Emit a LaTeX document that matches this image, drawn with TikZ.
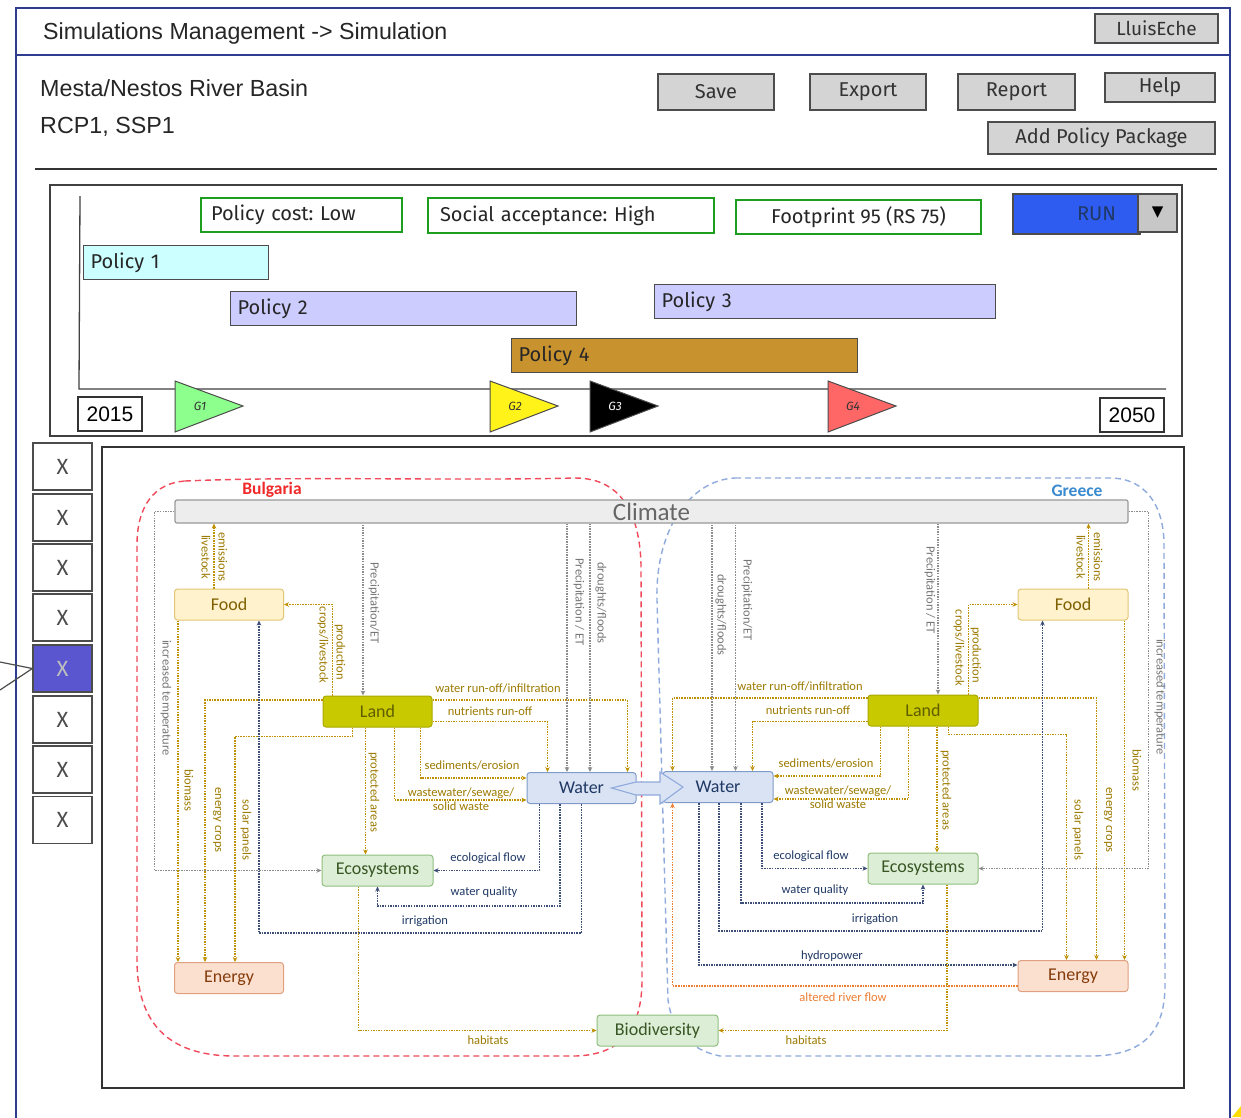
\documentclass[tikz,border=0pt]{standalone}
\usepackage{fontspec}
\setmainfont{Liberation Sans}
\newfontfamily\calfont{Carlito}
\newfontfamily\skfont{Fira Sans}
\newfontfamily\symfont{DejaVu Sans}
\usetikzlibrary{arrows.meta,calc}
\frenchspacing
\definecolor{frameblue}{HTML}{2E3D8F}
\definecolor{okgreen}{HTML}{1E9E1E}
\definecolor{runblue}{HTML}{2F5CF0}
\definecolor{pol1}{HTML}{CCFFFF}
\definecolor{pol2}{HTML}{CCCCFF}
\definecolor{pol4}{HTML}{C8922F}
\definecolor{selx}{HTML}{5A56D0}
\definecolor{goldC}{HTML}{BF9000}
\definecolor{goldT}{HTML}{9C7A00}
\definecolor{navyC}{HTML}{3C4E78}
\definecolor{navyT}{HTML}{1F3864}
\definecolor{grayC}{HTML}{8C8C8C}
\definecolor{grayT}{HTML}{767676}
\definecolor{orgC}{HTML}{ED7D31}
\definecolor{foodF}{HTML}{FFF2CC}\definecolor{foodB}{HTML}{E2C675}\definecolor{foodT}{HTML}{7F6000}
\definecolor{landF}{HTML}{C9C900}\definecolor{landB}{HTML}{A8A800}\definecolor{landT}{HTML}{5E5E00}
\definecolor{watF}{HTML}{DAE3F3}\definecolor{watB}{HTML}{7F9CC8}\definecolor{watT}{HTML}{1F3864}
\definecolor{ecoF}{HTML}{DDEED6}\definecolor{ecoB}{HTML}{8FBF7F}\definecolor{ecoT}{HTML}{375623}
\definecolor{enF}{HTML}{FBDFCF}\definecolor{enB}{HTML}{E0A080}\definecolor{enT}{HTML}{843C0C}
\definecolor{bgred}{HTML}{F04A5A}
\definecolor{grblue}{HTML}{8FAADC}
\definecolor{bulred}{HTML}{F02828}
\definecolor{greblue}{HTML}{3A8AD0}
\begin{document}
\begin{tikzpicture}[x=1pt,y=-1pt,
  >={Stealth[length=5pt,width=4.5pt]},
  uibtn/.style={draw=black!70, fill=black!17, line width=1.3pt, inner sep=0pt, font=\skfont\fontsize{20}{24}\selectfont, text=black!80},
  gbox/.style={draw=okgreen, line width=2.2pt, fill=white, inner ysep=0pt, font=\skfont\frenchspacing\fontsize{20}{24}\selectfont, text=black!85},
  polbar/.style={draw=black!70, line width=1.2pt, anchor=north west, inner xsep=7pt, inner ysep=0pt, minimum height=34pt, align=left, font=\skfont\fontsize{20}{24}\selectfont, text=black!85},
  xbox/.style={draw=black!70, line width=1.3pt, fill=white, minimum width=59pt, minimum height=47pt, inner sep=0pt, font=\skfont\fontsize{22}{24}\selectfont, text=black!70},
  yearbox/.style={draw=black!80, line width=1.2pt, fill=white, minimum width=64pt, minimum height=34pt, inner sep=0pt, font=\fontsize{21}{24}\selectfont},
  flag/.style={draw=black!70, line width=1pt},
  nd/.style={rounded corners=3pt, line width=1pt, minimum width=109pt, minimum height=31pt, inner sep=0pt, font=\calfont\fontsize{18}{20}\selectfont},
  foodn/.style={nd, draw=foodB, fill=foodF, text=foodT},
  landn/.style={nd, draw=landB, fill=landF, text=landT},
  watn/.style={nd, draw=watB, fill=watF, text=watT},
  econ/.style={nd, draw=ecoB, fill=ecoF, text=ecoT},
  enn/.style={nd, draw=enB, fill=enF, text=enT},
  conn/.style={line width=1.5pt, dash pattern=on 1.5pt off 1.1pt},
  goldl/.style={conn, draw=goldC},
  navyl/.style={conn, draw=navyC},
  grayl/.style={conn, draw=grayC},
  orgl/.style={conn, draw=orgC},
  lbl/.style={font=\calfont\fontsize{12.5}{14}\selectfont, inner sep=0pt, align=center},
  lgold/.style={lbl, text=goldT},
  lnavy/.style={lbl, text=navyT},
  lgray/.style={lbl, text=grayT},
  lorg/.style={lbl, text=orgC},
  rl/.style={rotate=-90}
]
\useasboundingbox (0,0) rectangle (1241,1117);
\fill[white] (0,0) rectangle (1241,1117);

% ---------- outer frame and header ----------
\draw[frameblue, line width=2.6pt] (16,1130) -- (16,8) -- (1230,8) -- (1230,1130);
\draw[frameblue, line width=2.6pt] (16,55) -- (1230,55);
\node[anchor=west, font=\fontsize{23.2}{26}\selectfont, text=black!85, inner sep=0pt] (title) at (43,33) {Simulations Management -> Simulation};
\node[uibtn, minimum width=123pt, minimum height=29pt, font=\skfont\fontsize{19}{22}\selectfont] (user) at (1156.5,28.5) {LluisEche};

\node[anchor=west, font=\fontsize{23.3}{26}\selectfont, text=black!85, inner sep=0pt] (basin) at (40,88) {Mesta/Nestos River Basin};
\node[anchor=west, font=\fontsize{23.3}{26}\selectfont, text=black!85, inner sep=0pt] (rcp) at (40,127) {RCP1, SSP1};

\node[uibtn, minimum width=116pt, minimum height=36pt] (save) at (716,92) {Save};
\node[uibtn, minimum width=116pt, minimum height=36pt] (export) at (868,92) {Export};
\node[uibtn, minimum width=117pt, minimum height=36pt] (report) at (1016.5,92) {Report};
\node[uibtn, minimum width=110pt, minimum height=29pt] (help) at (1160,87.5) {Help};
\node[uibtn, minimum width=227pt, minimum height=32pt] (addpp) at (1101.5,138) {Add Policy Package};
\draw[black!80, line width=1.5pt] (35,169) -- (1217,169);

% ---------- timeline panel ----------
\draw[black!75, line width=1.3pt] (50,185) rectangle (1182,436);
\draw[black!75, line width=1.3pt] (80,196) -- (79,389) -- (1166,389);
\node[gbox, text width=181pt, inner xsep=10pt, align=left, minimum height=34pt] (cost) at (301.5,215) {Policy cost: Low};
\node[gbox, text width=262pt, inner xsep=12pt, align=left, minimum height=35pt] (social) at (571,215.5) {Social acceptance: High};
\node[gbox, minimum width=245pt, inner xsep=0pt, minimum height=34pt] (foot) at (858.5,217) {Footprint 95 (RS 75)};
\node[draw=black!70, line width=1.2pt, fill=runblue, text width=79pt, align=right, inner xsep=24pt, inner ysep=0pt, minimum height=40pt, font=\skfont\fontsize{20}{24}\selectfont, text=navyT] (run) at (1076.5,214) {RUN};
\node[draw=black!70, line width=1.2pt, fill=black!22, minimum width=39pt, minimum height=38pt, inner sep=0pt, font=\symfont\fontsize{15}{16}\selectfont] (dd) at (1157.5,213) {▼};

\node[polbar, fill=pol1, text width=171pt] (p1) at (83,245) {Policy 1};
\node[polbar, fill=pol2, text width=332pt] (p2) at (230,291) {Policy 2};
\node[polbar, fill=pol2, text width=327pt] (p3) at (654,284) {Policy 3};
\node[polbar, fill=pol4, text width=332pt] (p4) at (511,338) {Policy 4};

\node[yearbox] (y2015) at (110,414) {2015};
\node[yearbox] (y2050) at (1132,415) {2050};

\filldraw[flag, fill=green!45!white] (175,381) -- (243,406) -- (175,432) -- cycle;
\filldraw[flag, fill=yellow!90!white] (490,381) -- (558,406) -- (490,432) -- cycle;
\filldraw[flag, fill=black] (590,381) -- (658,406) -- (590,432) -- cycle;
\filldraw[flag, fill=red!60!white] (828,381) -- (896,406) -- (828,432) -- cycle;
\node[font=\skfont\itshape\fontsize{12}{14}\selectfont, text=black!80] (g1) at (200,406) {G1};
\node[font=\skfont\itshape\fontsize{12}{14}\selectfont, text=black!80] (g2) at (515,406) {G2};
\node[font=\skfont\itshape\fontsize{12}{14}\selectfont, text=white] (g3) at (615,406) {G3};
\node[font=\skfont\itshape\fontsize{12}{14}\selectfont, text=black!80] (g4) at (853,406) {G4};

% ---------- X column ----------
\node[xbox] (x1) at (62.5,466.5) {X};
\node[xbox] (x2) at (62.5,517.5) {X};
\node[xbox] (x3) at (62.5,567.5) {X};
\node[xbox] (x4) at (62.5,617.5) {X};
\node[xbox, fill=selx, text=black!25] (x5) at (62.5,668.5) {X};
\node[xbox] (x6) at (62.5,719.5) {X};
\node[xbox] (x7) at (62.5,769.5) {X};
\node[xbox] (x8) at (62.5,820) {X};
\coordinate (tailA) at (0,662);
\coordinate (tailB) at (0,690);
\draw[black!70, line width=1.2pt] (tailA) -- (x5.west) -- (tailB);

% ---------- diagram panel ----------
\draw[black!80, line width=1.4pt] (102,447) rectangle (1184,1088);

% regions
\draw[bgred, line width=1.4pt, dash pattern=on 6pt off 4pt]
  (185,481) .. controls (300,476) and (450,481) .. (575,478)
  .. controls (625,478) and (640,520) .. (641,565) -- (642,980)
  .. controls (642,1030) and (620,1055) .. (575,1056) -- (235,1056)
  .. controls (165,1056) and (137,1020) .. (137,960) -- (137,545)
  .. controls (137,505) and (155,483) .. (185,481) -- cycle;
\draw[grblue, line width=1.4pt, dash pattern=on 6pt off 4pt]
  (735,478) -- (1110,478) .. controls (1145,478) and (1164,505) .. (1164,545)
  -- (1165,985) .. controls (1165,1035) and (1140,1056) .. (1090,1056)
  -- (720,1056) .. controls (690,1050) and (672,1030) .. (668,1000)
  -- (657,600) .. controls (655,530) and (690,480) .. (735,478) -- cycle;
\node[font=\calfont\bfseries\fontsize{17.5}{20}\selectfont, text=bulred] (bul) at (272,490) {Bulgaria};
\node[font=\calfont\bfseries\fontsize{17.5}{20}\selectfont, text=greblue] (gre) at (1077,491) {Greece};

% climate bar
\node[draw=black!40, fill=black!7, line width=1.2pt, rounded corners=2pt, minimum width=953pt, minimum height=23pt, inner sep=0pt, font=\calfont\fontsize{25}{26}\selectfont, text=black!60] (clim) at (651.5,511.5) {Climate};

% nodes
\node[foodn] (foodL) at (229,604.5) {Food};
\node[landn] (landL) at (377.5,711.5) {Land};
\node[watn] (waterL) at (581.5,788) {Water};
\node[econ, minimum width=111pt] (ecoL) at (377.5,870.5) {Ecosystems};
\node[enn] (energyL) at (229,978) {Energy};
\node[econ, minimum width=121pt] (bio) at (657.5,1030.5) {Biodiversity};
\node[watn, minimum width=110pt] (waterR) at (718,787) {Water};
\node[landn, minimum width=110pt] (landR) at (923,710.5) {Land};
\node[econ, minimum width=110pt] (ecoR) at (923,868.5) {Ecosystems};
\node[foodn, minimum width=110pt] (foodR) at (1073,604.5) {Food};
\node[enn, minimum width=110pt] (energyR) at (1073,976) {Energy};

% ---------- left connectors ----------
\draw[grayl,->] (clim.west) -- ++(-20,0) |- (ecoL.west);
\node[lgray, rl] at (166,698) {increased temperature};
\draw[goldl,->] ([xshift=40pt]foodL.north west) coordinate (a) -- (a |- clim.south);
\node[lgold, rl] at (206,557) {livestock};
\node[lgold, rl] at (223,557) {emissions};
\draw[goldl,->] ([xshift=10pt]landL.north west) |- (foodL.east);
\node[lgold, rl] at (323,645) {crops/livestock};
\node[lgold, rl] at (340,652) {production};
\draw[grayl,<-] ([xshift=-14.5pt]landL.north) coordinate (a) -- (a |- clim.south);
\node[lgray, rl] at (374,603) {Precipitation/ET};
\draw[goldl,->] ([xshift=4pt]foodL.south west) coordinate (a) -- (a |- energyL.north);
\node[lgold, rl] at (189,790) {biomass};
\draw[goldl,->] ([yshift=11.5pt]landL.west) -| ([xshift=31pt]energyL.north west);
\node[lgold, rl] at (217,820) {energy crops};
\draw[goldl,->] ([xshift=30pt]landL.south west) -- ++(0,9) -| ([xshift=61pt]energyL.north west);
\node[lgold, rl] at (246,830) {solar panels};
\draw[goldl,->] ([xshift=-12pt]landL.south) coordinate (a) -- (a |- ecoL.north);
\node[lgold, rl] at (374,792) {protected areas};
\draw[goldl,->] ([yshift=11.5pt]landL.east) -| ([xshift=-9pt]waterL.north east);
\node[lgold] at (498,688) {water run-off/infiltration};
\draw[goldl,->] ([yshift=-10pt]landL.east) -| ([xshift=21pt]waterL.north west);
\node[lgold] at (490,711) {nutrients run-off};
\draw[goldl,->] ([xshift=-12pt]landL.south east) |- ([yshift=10pt]waterL.west);
\node[lgold] at (472,765) {sediments/erosion};
\draw[goldl,->] ([xshift=-38pt]landL.south east) |- ([yshift=-12pt]waterL.west);
\node[lgold] at (461,799) {wastewater/sewage/\\solid waste};
\draw[grayl,<-] ([xshift=-14.5pt]waterL.north) coordinate (a) -- (a |- clim.south);
\node[lgray, rl] at (579,602) {Precipitation / ET};
\draw[grayl,<-] ([xshift=8.5pt]waterL.north) coordinate (a) -- (a |- clim.south);
\node[lgray, rl] at (601,603) {droughts/floods};
\draw[navyl,->] ([xshift=-42pt]waterL.south) |- (ecoL.east);
\node[lnavy] at (488,858) {ecological flow};
\draw[navyl,->] ([xshift=-21.5pt]waterL.south) -- ++(0,102) -| (ecoL.south);
\node[lnavy] at (484,892) {water quality};
\draw[navyl,->] (waterL.south) -- ++(0,129) -| ([xshift=85pt]foodL.south west);
\node[lnavy] at (425,921) {irrigation};
\draw[goldl,->] ([xshift=-19pt]ecoL.south) |- (bio.west);
\node[lgold] at (488,1040) {habitats};

% ---------- right connectors ----------
\draw[grayl,->] (clim.east) -- ++(20,0) |- (ecoR.east);
\node[lgray, rl] at (1160,697) {increased temperature};
\draw[goldl,->] ([xshift=-40pt]foodR.north east) coordinate (a) -- (a |- clim.south);
\node[lgold, rl] at (1081,557) {livestock};
\node[lgold, rl] at (1098,557) {emissions};
\draw[goldl,->] ([xshift=-10pt]landR.north east) |- (foodR.west);
\node[lgold, rl] at (959,648) {crops/livestock};
\node[lgold, rl] at (976,655) {production};
\draw[grayl,<-] ([xshift=15pt]landR.north) coordinate (a) -- (a |- clim.south);
\node[lgray, rl] at (930,590) {Precipitation / ET};
\draw[grayl,<-] ([xshift=-6pt]waterR.north) coordinate (a) -- (a |- clim.south);
\node[lgray, rl] at (721,615) {droughts/floods};
\draw[grayl,<-] ([xshift=17.5pt]waterR.north) coordinate (a) -- (a |- clim.south);
\node[lgray, rl] at (747,600) {Precipitation/ET};
\draw[goldl,->] ([yshift=12.5pt]landR.west) -| ([xshift=10pt]waterR.north west);
\node[lgold] at (800,686) {water run-off/infiltration};
\draw[goldl,->] ([yshift=-11pt]landR.west) -| ([xshift=-21pt]waterR.north east);
\node[lgold] at (808,710) {nutrients run-off};
\draw[goldl,->] ([xshift=13pt]landR.south west) |- ([yshift=11pt]waterR.east);
\node[lgold] at (826,763) {sediments/erosion};
\draw[goldl,->] ([xshift=41pt]landR.south west) |- ([yshift=-12pt]waterR.east);
\node[lgold] at (838,797) {wastewater/sewage/\\solid waste};
\draw[goldl,->] ([xshift=14pt]landR.south) coordinate (a) -- (a |- ecoR.north);
\node[lgold, rl] at (946,790) {protected areas};
\draw[goldl,->] ([xshift=-30pt]landR.south east) -- ++(0,8) -| ([xshift=49pt]energyR.north west);
\node[lgold, rl] at (1078,830) {solar panels};
\draw[goldl,->] ([yshift=12.5pt]landR.east) -| ([xshift=79pt]energyR.north west);
\node[lgold, rl] at (1108,820) {energy crops};
\draw[goldl,->] ([xshift=-4pt]foodR.south east) coordinate (a) -- (a |- energyR.north);
\node[lgold, rl] at (1137,770) {biomass};
\draw[navyl,->] ([xshift=44pt]waterR.south) |- (ecoR.west);
\node[lnavy] at (811,856) {ecological flow};
\draw[navyl,->] ([xshift=23pt]waterR.south) -- ++(0,100) -| (ecoR.south);
\node[lnavy] at (815,890) {water quality};
\draw[navyl,->] ([xshift=1pt]waterR.south) -- ++(0,128) -| ([xshift=25pt]foodR.south west);
\node[lnavy] at (875,919) {irrigation};
\draw[navyl,->] ([xshift=-19pt]waterR.south) |- ([yshift=11pt]energyR.west);
\node[lnavy] at (832,956) {hydropower};
\draw[orgl,->] ([yshift=-10pt]energyR.west) -| ([xshift=10pt]waterR.south west);
\node[lorg] at (843,997) {altered river flow};
\draw[goldl,->] ([xshift=24pt]ecoR.south) |- (bio.east);
\node[lgold] at (806,1040) {habitats};

% transfer arrow water -> water
\filldraw[fill=watF, draw=grblue, line width=1.1pt]
  ([xshift=30pt]waterL.center) -- (636,782) -- (660,782) -- (660,772) -- ([xshift=-35pt]waterR.center)
  -- (660,804) -- (660,795) -- (636,795) -- cycle;

% small yellow mark bottom right
\fill[yellow!80!orange] (1232,1117) -- (1241,1106) -- (1241,1117) -- cycle;
\end{tikzpicture}
\end{document}
